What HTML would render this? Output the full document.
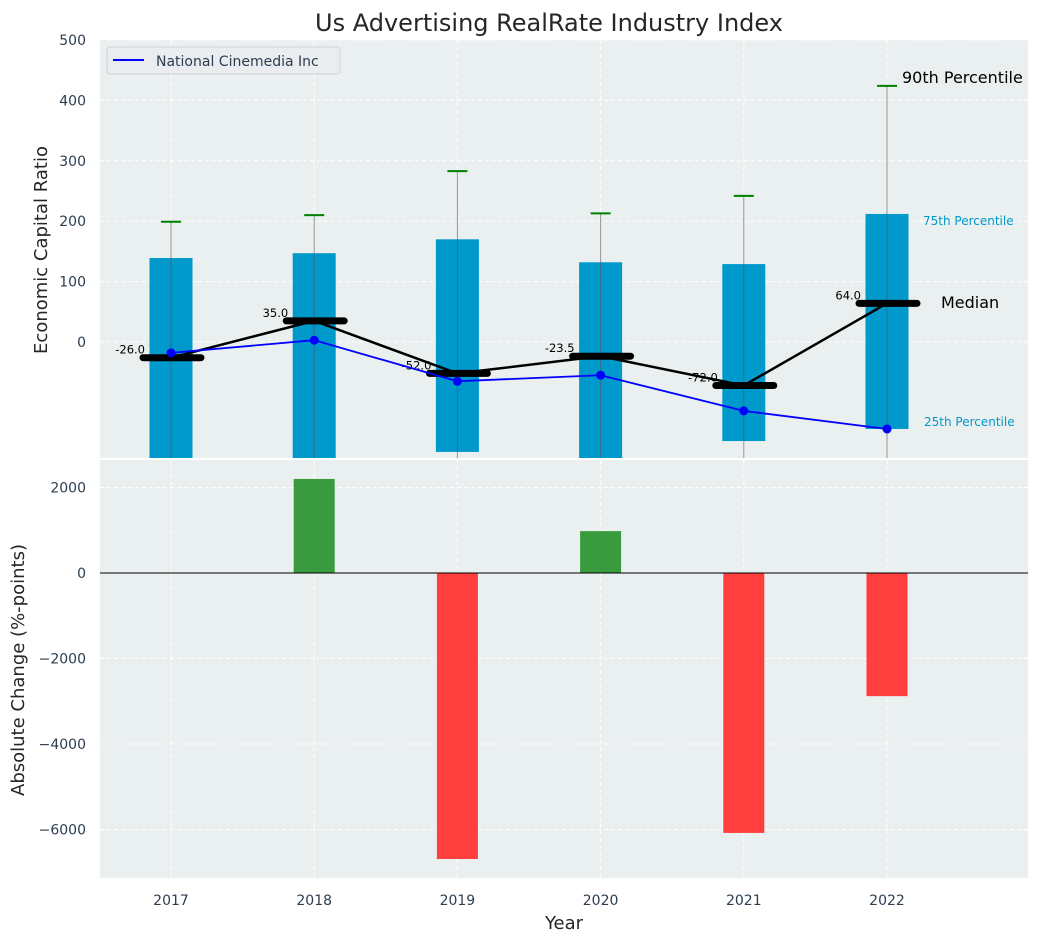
<!DOCTYPE html>
<html><head><meta charset="utf-8"><style>
body{margin:0;background:#fff;font-family:"Liberation Sans","DejaVu Sans",sans-serif}
svg text{font-family:"DejaVu Sans","Liberation Sans",sans-serif}
</style></head><body>
<svg id="c" width="1039" height="942" xmlns="http://www.w3.org/2000/svg"></svg>
<script>
const years=[2017,2018,2019,2020,2021,2022];
const p25=[-200,-200,-182,-200,-164,-144];
const p75=[139,147,170,132,129,212];
const p90=[199,210,283,213,242,424];
const medians=[-26,35,-52,-23.5,-72,64];
const company=[-18,3,-65,-55,-114,-144];
const changes=[0,2200,-6690,980,-6080,-2880];
const topTicks=[0,100,200,300,400,500];
const botTicks=[-6000,-4000,-2000,0,2000];

const svg=document.getElementById('c');
const NS='http://www.w3.org/2000/svg';
function el(t,a,p){const e=document.createElementNS(NS,t);for(const k in a)e.setAttribute(k,a[k]);(p||svg).appendChild(e);return e;}
const L=100,R=1028;
const x=v=>171+(v-2017)*143.2;
const T0=40,T1=458,yt=v=>342-v*0.604;
const B0=460,B1=878,yb=v=>573-v*0.04275;

let e=el('rect',{x:L,y:T0,width:R-L,height:T1-T0,fill:'#eaeff0'});

e=el('rect',{x:L,y:B0,width:R-L,height:B1-B0,fill:'#eaeff0'});


years.forEach(y=>{
  el('line',{x1:x(y),x2:x(y),y1:T0,y2:T1,stroke:'#fff','stroke-dasharray':'4,3'});
  el('line',{x1:x(y),x2:x(y),y1:B0,y2:B1,stroke:'#fff','stroke-dasharray':'4,3'});
});
topTicks.forEach(v=>{
  el('line',{x1:L,x2:R,y1:yt(v),y2:yt(v),stroke:'#fff','stroke-dasharray':'4,3'});
  const t=el('text',{x:86,y:yt(v)+5,'text-anchor':'end','font-size':14,fill:'#2c3e50'});t.textContent=v;
  
});
botTicks.forEach(v=>{
  el('line',{x1:L,x2:R,y1:yb(v),y2:yb(v),stroke:'#fff','stroke-dasharray':'4,3'});
  const t=el('text',{x:86,y:yb(v)+5,'text-anchor':'end','font-size':14,fill:'#2c3e50'});t.textContent=v<0?'−'+Math.abs(v):v;
  
});
years.forEach(y=>{
  const t=el('text',{x:x(y),y:905,'text-anchor':'middle','font-size':14,fill:'#2c3e50'});t.textContent=y;
  
});

const defs=el('defs',{});
const cp=el('clipPath',{id:'ct'},defs);el('rect',{x:L,y:T0,width:R-L,height:T1-T0},cp);
const g=el('g',{'clip-path':'url(#ct)'});
years.forEach((y,i)=>{
  const b=el('rect',{x:x(y)-21.5,y:yt(p75[i]),width:43,height:yt(p25[i])-yt(p75[i]),fill:'#0099cc'},g);
  
  el('line',{x1:x(y),x2:x(y),y1:yt(p90[i]),y2:T1+20,stroke:'#555','stroke-opacity':0.6,'stroke-width':1},g);
  const c=el('line',{x1:x(y)-10,x2:x(y)+10,y1:yt(p90[i]),y2:yt(p90[i]),stroke:'green','stroke-width':2},g);
  
});
let d=years.map((y,i)=>(i?'L':'M')+x(y)+','+yt(medians[i])).join('');
e=el('path',{d,fill:'none',stroke:'#000','stroke-width':2.5},g);

years.forEach((y,i)=>{
  const m=el('line',{x1:x(y)-28,x2:x(y)+30,y1:yt(medians[i]),y2:yt(medians[i]),stroke:'#000','stroke-width':7,'stroke-linecap':'round'},g);
  
  const t=el('text',{x:x(y)-26,y:yt(medians[i])-4,'text-anchor':'end','font-size':11.5,fill:'#000'},g);t.textContent=medians[i].toFixed(1);
  
});
d=years.map((y,i)=>(i?'L':'M')+x(y)+','+yt(company[i])).join('');
e=el('path',{d,fill:'none',stroke:'#0000ff','stroke-width':1.8},g);

years.forEach((y,i)=>{
  const p=el('circle',{cx:x(y),cy:yt(company[i]),r:4.5,fill:'#0000ff'},g);
  
});
e=el('text',{x:902,y:83,'font-size':16,fill:'#000'});e.textContent='90th Percentile';

e=el('text',{x:923,y:225,'font-size':12,fill:'#0099cc'});e.textContent='75th Percentile';

e=el('text',{x:941,y:308,'font-size':16,fill:'#000'});e.textContent='Median';

e=el('text',{x:924,y:426,'font-size':12,fill:'#0099cc'});e.textContent='25th Percentile';


years.forEach((y,i)=>{
  const v=changes[i];if(!v)return;
  const b=el('rect',{x:x(y)-20.5,y:Math.min(yb(v),yb(0)),width:41,height:Math.abs(yb(v)-yb(0)),fill:v>0?'#3a9b3e':'#ff3e3e'});
  
});
el('line',{x1:L,x2:R,y1:yb(0),y2:yb(0),stroke:'#000','stroke-width':1});

const lg=el('g',{});
el('rect',{x:107,y:47,width:233,height:27,rx:3,fill:'#eaecf0',stroke:'#d0d3d8'},lg);
el('line',{x1:113,x2:144,y1:60,y2:60,stroke:'#0000ff','stroke-width':2},lg);
e=el('text',{x:156,y:66,'font-size':14,fill:'#2c3e50'},lg);e.textContent='National Cinemedia Inc';

e=el('text',{x:549,y:31,'text-anchor':'middle','font-size':24,fill:'#262626'});e.textContent='Us Advertising RealRate Industry Index';

e=el('text',{x:47,y:250,'text-anchor':'middle','font-size':18,fill:'#262626',transform:'rotate(-90 47 250)'});e.textContent='Economic Capital Ratio';

e=el('text',{x:24,y:670,'text-anchor':'middle','font-size':18,fill:'#262626',transform:'rotate(-90 24 670)'});e.textContent='Absolute Change (%-points)';

e=el('text',{x:564,y:929,'text-anchor':'middle','font-size':18,fill:'#262626'});e.textContent='Year';

</script>
</body></html>
